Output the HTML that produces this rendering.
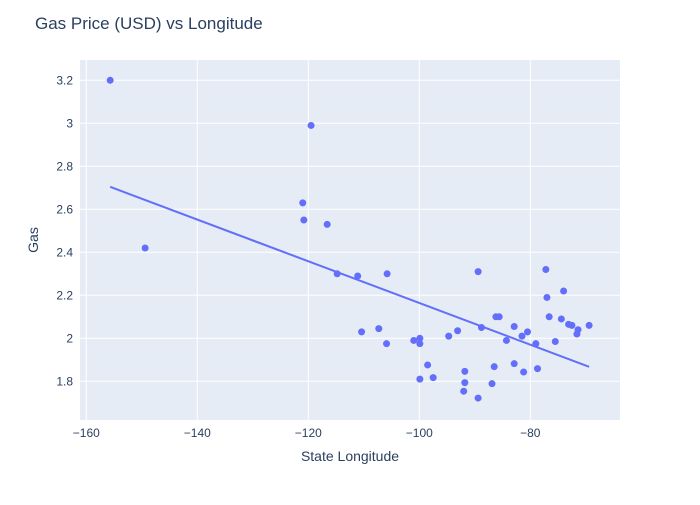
<!DOCTYPE html>
<html><head><meta charset="utf-8"><style>
body{margin:0;background:#fff;}
svg{font-family:"Liberation Sans",sans-serif;}
</style></head><body>
<svg id="chart" width="700" height="500" xmlns="http://www.w3.org/2000/svg">
<rect width="700" height="500" fill="#fff"/>
<text x="35" y="29" font-size="17" fill="#2a3f5f">Gas Price (USD) vs Longitude</text>
<rect x="80" y="60" width="540" height="360" fill="#e5ecf6"/>
<g id="grid"></g><g id="marks"></g><g id="ticks"></g>
<text x="350" y="461" font-size="14" fill="#2a3f5f" text-anchor="middle">State Longitude</text>
<text x="38" y="240" font-size="14" fill="#2a3f5f" text-anchor="middle" transform="rotate(-90 38 240)">Gas</text>
</svg>
<script>
const longitudes=[-155.7,-149.4,-119.5,-121,-120.8,-116.6,-114.8,-111.1,-105.8,-89.4,-77.2,-74.0,-77.0,-76.6,-74.4,-73.1,-72.5,-71.4,-71.6,-69.4,-86.2,-85.6,-82.9,-80.5,-81.5,-84.3,-79.0,-75.5,-88.8,-93.1,-94.7,-110.4,-107.3,-105.9,-101.0,-99.9,-99.9,-98.5,-97.5,-99.9,-91.8,-91.8,-92.0,-89.4,-86.9,-86.5,-82.9,-81.2,-78.7];
const gasPrices=[3.2,2.42,2.99,2.63,2.55,2.53,2.30,2.29,2.30,2.31,2.32,2.22,2.19,2.10,2.09,2.065,2.06,2.04,2.02,2.06,2.10,2.10,2.055,2.03,2.01,1.99,1.975,1.985,2.05,2.035,2.01,2.03,2.045,1.975,1.99,2.0,1.975,1.876,1.817,1.81,1.846,1.794,1.754,1.722,1.789,1.868,1.882,1.843,1.859];
const xTicks=[-160,-140,-120,-100,-80];
const yTicks=[1.8,2,2.2,2.4,2.6,2.8,3,3.2];
const NS="http://www.w3.org/2000/svg";
const xs=v=>419.3+(v+100)*5.55;
const ys=v=>338.3-(v-2)*215;
function mk(tag,attrs,parent){const e=document.createElementNS(NS,tag);for(const k in attrs)e.setAttribute(k,attrs[k]);parent.appendChild(e);return e;}
const grid=document.getElementById('grid'),marks=document.getElementById('marks'),ticks=document.getElementById('ticks');
xTicks.forEach(t=>{
 const l=mk('line',{x1:xs(t),x2:xs(t),y1:60,y2:420,stroke:'#fff','stroke-width':1},grid);
 
 
 const tx=mk('text',{x:xs(t),y:437,'font-size':12,fill:'#2a3f5f','text-anchor':'middle'},ticks);
 tx.textContent=String(t).replace('-','\u2212');
 
 
});
yTicks.forEach(t=>{
 const l=mk('line',{x1:80,x2:620,y1:ys(t),y2:ys(t),stroke:'#fff','stroke-width':1},grid);
 
 
 const tx=mk('text',{x:73,y:ys(t)+4,'font-size':12,fill:'#2a3f5f','text-anchor':'end'},ticks);
 tx.textContent=String(t);
 
 
});
// OLS trendline
const n=longitudes.length;
const mx=longitudes.reduce((a,b)=>a+b)/n,my=gasPrices.reduce((a,b)=>a+b)/n;
let sxy=0,sxx=0;for(let i=0;i<n;i++){sxy+=(longitudes[i]-mx)*(gasPrices[i]-my);sxx+=(longitudes[i]-mx)**2;}
const slope=sxy/sxx,icpt=my-slope*mx;
const xmin=Math.min(...longitudes),xmax=Math.max(...longitudes);
const tl=mk('line',{x1:xs(xmin),y1:ys(icpt+slope*xmin),x2:xs(xmax),y2:ys(icpt+slope*xmax),stroke:'#636efa','stroke-width':2},marks);


longitudes.forEach((lon,i)=>{
 const c=mk('circle',{cx:xs(lon),cy:ys(gasPrices[i]),r:3.5,fill:'#636efa'},marks);
 
 
});
</script>
</body></html>
